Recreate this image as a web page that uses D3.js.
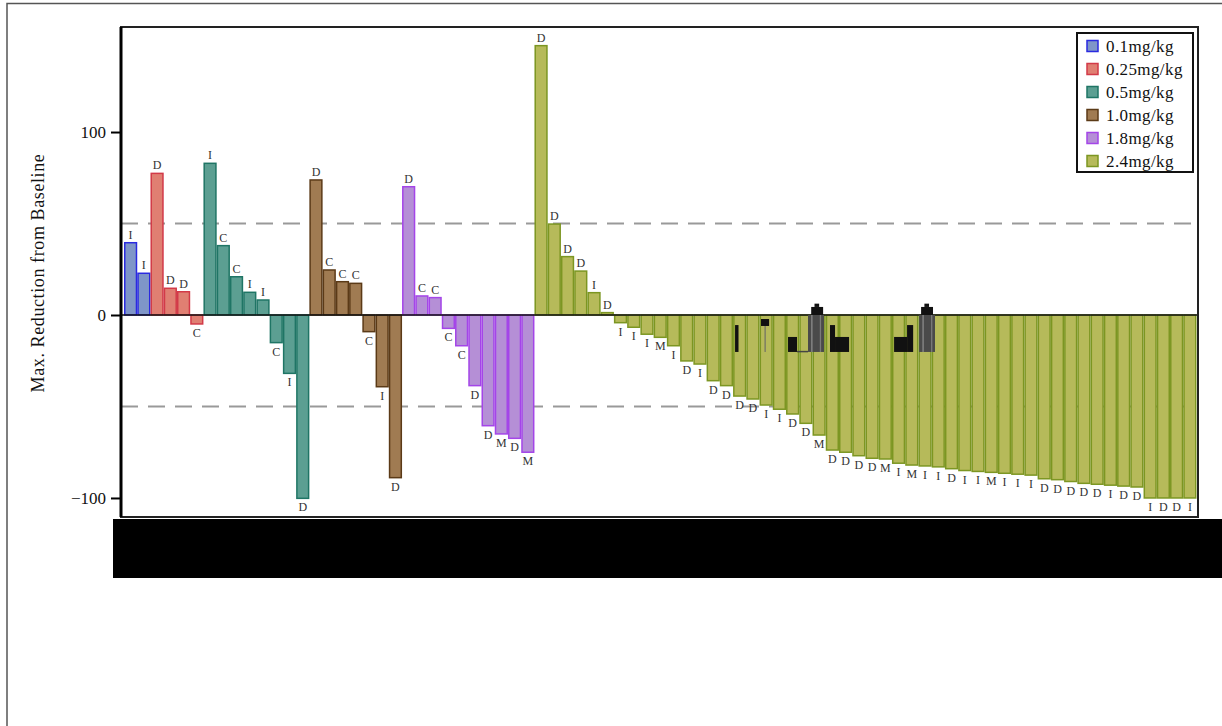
<!DOCTYPE html>
<html><head><meta charset="utf-8">
<script src="https://cdn.jsdelivr.net/npm/d3@7"></script>
<style>body{margin:0;background:#fff}svg{display:block}</style>
</head><body>
<svg id="chart" width="1222" height="726"></svg>
<script>
const groups = ["0.1mg/kg","0.25mg/kg","0.5mg/kg","1.0mg/kg","1.8mg/kg","2.4mg/kg"];
const fills = ["#7f96c8","#e07f72","#5c9f92","#a07b52","#b58fd6","#b6ba5a"];
const strokes = ["#2a2ae0","#d23a48","#1f7565","#5b3a17","#a445e8","#7c9622"];

const vals01 = [39.5, 22.8];
const labs01 = ["I","I"];
const vals025 = [77.4, 14.6, 12.7, -4.9];
const labs025 = ["D","D","D","C"];
const vals05 = [82.9, 37.9, 20.9, 12.4, 8.2, -15.1, -31.9, -100.2];
const labs05 = ["I","C","C","I","I","C","I","D"];
const vals10 = [73.8, 24.6, 18.2, 17.3, -9.1, -39.2, -88.9];
const labs10 = ["D","C","C","C","C","I","D"];
const vals18 = [70.1, 10.4, 9.5, -7.3, -16.8, -38.6, -60.5, -65, -67.4, -75];
const labs18 = ["D","C","C","C","C","D","D","M","D","M"];
const vals24 = [147.2, 49.7, 31.9, 24, 12.2, 1.3,
  -4.2, -6.7, -10.5, -12.2, -16.8, -25.1, -26.8, -35.9, -38.6, -44.3,
  -45.9, -49.2, -51.5, -54.1, -59.2, -65.6, -73.8, -75, -76.9, -78.3,
  -78.7, -81, -82, -82.5, -83, -84, -85, -85.5, -86, -86.5,
  -87, -87.5, -89.5, -90, -91, -92, -92.5, -93, -93.5, -94,
  -100, -100, -100, -100];
const labs24 = ["D","D","D","D","I","D",
  "I","I","I","M","I","D","I","D","D","D",
  "D","I","I","D","D","M","D","D","D","D",
  "M","I","M","I","I","D","I","I","M","I",
  "I","I","D","D","D","D","D","I","D","D",
  "I","D","D","I"];
const yTicks = [100, 0, -100];
const refLines = [50, -50];
const yTitle = "Max. Reduction from Baseline";

// overlay artifacts (in bar-index / value units)
const artifacts = [
  {i0:46.15,i1:46.41,v0:-5.5,v1:-20.2,c:"#111"},
  {i0:48.11,i1:48.72,v0:-2.2,v1:-6.0,c:"#111"},
  {i0:48.38,i1:48.46,v0:-6.0,v1:-20.2,c:"#666"},
  {i0:50.15,i1:50.83,v0:-12,v1:-20.2,c:"#111"},
  {i0:50.83,i1:51.66,v0:-19.6,v1:-20.4,c:"#444"},
  {i0:51.66,i1:52.87,v0:0,v1:-20.2,c:"#4a4a4a"},
  {i0:51.9,i1:52.0,v0:0,v1:-20.2,c:"#8a8a8a"},
  {i0:52.55,i1:52.65,v0:0,v1:-20.2,c:"#7a7a7a"},
  {i0:51.9,i1:52.8,v0:4.4,v1:0,c:"#111"},
  {i0:52.15,i1:52.5,v0:6.2,v1:4.4,c:"#111"},
  {i0:53.32,i1:53.7,v0:-5.5,v1:-20.2,c:"#111"},
  {i0:53.7,i1:54.76,v0:-12,v1:-20.2,c:"#111"},
  {i0:58.16,i1:59.14,v0:-12,v1:-20.2,c:"#111"},
  {i0:59.14,i1:59.6,v0:-5.5,v1:-20.2,c:"#111"},
  {i0:60.05,i1:61.25,v0:0,v1:-20.2,c:"#4a4a4a"},
  {i0:60.3,i1:60.4,v0:0,v1:-20.2,c:"#8a8a8a"},
  {i0:60.95,i1:61.05,v0:0,v1:-20.2,c:"#7a7a7a"},
  {i0:60.2,i1:61.1,v0:4.4,v1:0,c:"#111"},
  {i0:60.45,i1:60.8,v0:6.2,v1:4.4,c:"#111"}
];

const allVals = [vals01, vals025, vals05, vals10, vals18, vals24];
const allLabs = [labs01, labs025, labs05, labs10, labs18, labs24];
const data = [];
allVals.forEach((arr, g) => arr.forEach((v, k) => data.push({g, v, lab: allLabs[g][k]})));
data.forEach((d, i) => d.i = i);

const svg = d3.select("#chart");
const serif = "'Liberation Serif','Times New Roman',serif";

// outer frame
svg.append("rect").attr("x",7).attr("y",3.5).attr("width",1240).attr("height",760)
  .attr("fill","none").attr("stroke","#555").attr("stroke-width",1.5);

const plot = {l:121, r:1198, t:27, b:517};
const x = d3.scaleBand().domain(data.map(d=>d.i)).range([124, 1196.5]).padding(0);
const step = x.step();
const y = d3.scaleLinear().domain([-110.4, 157.4]).range([plot.b, plot.t]);

// reference dashed lines
svg.selectAll(".ref").data(refLines).join("line")
  .attr("x1", plot.l).attr("x2", plot.r)
  .attr("y1", d=>y(d)).attr("y2", d=>y(d))
  .attr("stroke","#999").attr("stroke-width",2).attr("stroke-dasharray","17,10");

// bars
svg.selectAll(".bar").data(data).join("rect")
  .attr("x", d => x(d.i) + 0.75)
  .attr("width", step - 1.5)
  .attr("y", d => y(Math.max(0, d.v)))
  .attr("height", d => Math.abs(y(d.v) - y(0)))
  .attr("fill", d => fills[d.g])
  .attr("stroke", d => strokes[d.g])
  .attr("stroke-width", 1.5);

// zero line
svg.append("line").attr("x1",plot.l).attr("x2",plot.r).attr("y1",y(0)).attr("y2",y(0))
  .attr("stroke","#111").attr("stroke-width",1.5);

// artifacts
svg.selectAll(".art").data(artifacts).join("rect")
  .attr("x", d => x(0) + d.i0*step)
  .attr("width", d => (d.i1-d.i0)*step)
  .attr("y", d => y(d.v0))
  .attr("height", d => y(d.v1)-y(d.v0))
  .attr("fill", d => d.c);

// bar labels
svg.selectAll(".lab").data(data).join("text")
  .attr("x", d => x(d.i) + step/2)
  .attr("y", d => d.v >= 0 ? y(d.v) - 4 : y(d.v) + 13)
  .attr("text-anchor","middle")
  .attr("font-family", serif).attr("font-size", 12).attr("fill","#333")
  .text(d => d.lab);

// plot frame
svg.append("rect").attr("x",plot.l).attr("y",plot.t).attr("width",plot.r-plot.l).attr("height",plot.b-plot.t)
  .attr("fill","none").attr("stroke","#222").attr("stroke-width",2);
svg.append("line").attr("x1",plot.l).attr("x2",plot.l).attr("y1",plot.t).attr("y2",plot.b)
  .attr("stroke","#000").attr("stroke-width",3);

// y axis
const yAxis = d3.axisLeft(y).tickValues(yTicks).tickSize(9).tickPadding(5).tickFormat(d3.format("d"));
const ga = svg.append("g").attr("transform",`translate(${plot.l-1},0)`).call(yAxis);
ga.select(".domain").remove();
ga.selectAll(".tick line").attr("stroke","#000").attr("stroke-width",2);
ga.selectAll(".tick text").attr("font-family",serif).attr("font-size",17).attr("fill","#111");

svg.append("text").attr("transform",`translate(44,273) rotate(-90)`)
  .attr("text-anchor","middle").attr("font-family",serif).attr("font-size",18)
  .attr("letter-spacing",0.6).attr("fill","#111")
  .text(yTitle);

// black band below plot
svg.append("rect").attr("x",113).attr("y",519).attr("width",1120).attr("height",59).attr("fill","#000");

// legend
const lg = svg.append("g");
lg.append("rect").attr("x",1077).attr("y",33).attr("width",116).attr("height",139)
  .attr("fill","#fff").attr("stroke","#111").attr("stroke-width",2);
const li = lg.selectAll(".li").data(groups).join("g")
  .attr("transform",(d,i)=>`translate(1087,${46 + i*23})`);
li.append("rect").attr("x",0).attr("y",-5.5).attr("width",11).attr("height",11)
  .attr("fill",(d,i)=>fills[i]).attr("stroke",(d,i)=>strokes[i]).attr("stroke-width",1.5);
li.append("text").attr("x",19).attr("y",6).attr("font-family",serif).attr("font-size",17)
  .attr("letter-spacing",0.4).attr("fill","#111")
  .text(d=>d);
</script>
</body></html>
